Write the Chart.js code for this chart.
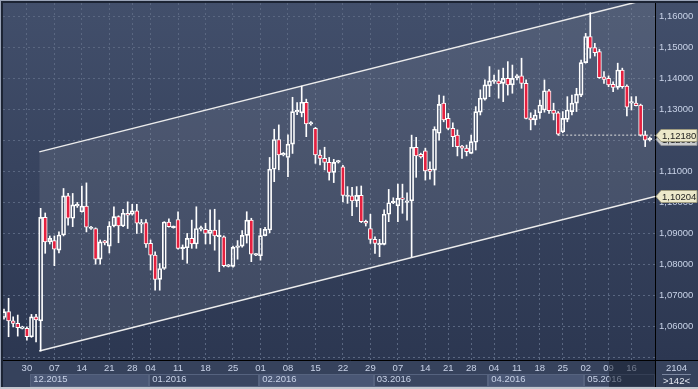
<!DOCTYPE html>
<html><head><meta charset="utf-8">
<script src="https://cdn.jsdelivr.net/npm/chart.js@4.4.0/dist/chart.umd.min.js"></script>
<style>html,body{margin:0;padding:0;background:#36425c;overflow:hidden}</style>
</head><body>
<canvas id="c" width="698" height="389" style="display:block;width:698px;height:389px"></canvas>
<script>
// ---- data (daily candles, one slot per bar) ----
const open = [
1.0630,1.0649,1.0619,1.0611,1.0595,1.0595,1.0568,1.0632,1.0619,1.0953,
1.0874,1.0878,1.0847,1.0896,1.1022,1.0950,1.0990,1.0971,1.0989,1.0917,
1.0917,1.0818,1.0877,1.0860,1.0925,1.0955,1.0925,1.0966,1.0963,1.0974,
1.0931,1.0936,1.0869,1.0831,1.0753,1.0788,1.0938,1.0920,1.0946,1.0852,
1.0855,1.0885,1.0867,1.0915,1.0914,1.0901,1.0912,1.0891,1.0890,1.0795,
1.0795,1.0856,1.0860,1.0895,1.0944,1.0831,1.0829,1.0894,1.0912,1.1108,
1.1204,1.1154,1.1146,1.1189,1.1293,1.1290,1.1324,1.1254,1.1240,1.1154,
1.1143,1.1130,1.1098,1.1131,1.1116,1.1020,1.1022,1.1006,1.1024,1.0940,
1.0917,1.0882,1.0864,1.0866,1.0963,1.1000,1.0990,1.1016,1.1001,1.1006,
1.1179,1.1156,1.1167,1.1108,1.1105,1.1224,1.1321,1.1272,1.1240,1.1218,
1.1183,1.1176,1.1159,1.1195,1.1292,1.1334,1.1377,1.1391,1.1393,1.1385,
1.1401,1.1380,1.1403,1.1409,1.1385,1.1274,1.1267,1.1290,1.1299,1.1361,
1.1299,1.1290,1.1229,1.1269,1.1294,1.1321,1.1347,1.1452,1.1536,1.1500,
1.1487,1.1406,1.1401,1.1382,1.1372,1.1428,1.1376,1.1321,1.1321,1.1315,
1.1218,1.1203];
const high = [
1.0657,1.0692,1.0632,1.0638,1.0602,1.0600,1.0640,1.0640,1.0982,1.0967,
1.0893,1.0893,1.0906,1.1046,1.1030,1.1030,1.1001,1.1054,1.1064,1.0924,
1.0919,1.0880,1.0879,1.0939,1.0987,1.0958,1.0979,1.1003,1.0995,1.0995,
1.0946,1.0946,1.0880,1.0842,1.0804,1.0939,1.0948,1.0925,1.0971,1.0864,
1.0901,1.0944,1.0987,1.0925,1.0934,1.0977,1.0979,1.0944,1.0893,1.0801,
1.0860,1.0878,1.0910,1.0971,1.0950,1.0836,1.0917,1.0921,1.1146,1.1237,
1.1251,1.1162,1.1219,1.1340,1.1323,1.1376,1.1334,1.1262,1.1243,1.1170,
1.1179,1.1146,1.1140,1.1137,1.1121,1.1052,1.1050,1.1052,1.1054,1.0944,
1.0963,1.0890,1.0882,1.0977,1.1043,1.1016,1.1060,1.1060,1.1032,1.1218,
1.1211,1.1160,1.1176,1.1132,1.1245,1.1347,1.1344,1.1288,1.1258,1.1235,
1.1185,1.1186,1.1218,1.1310,1.1364,1.1396,1.1439,1.1412,1.1428,1.1434,
1.1455,1.1444,1.1413,1.1466,1.1396,1.1290,1.1299,1.1331,1.1396,1.1366,
1.1321,1.1294,1.1294,1.1342,1.1347,1.1369,1.1460,1.1546,1.1613,1.1514,
1.1495,1.1423,1.1409,1.1390,1.1450,1.1434,1.1380,1.1342,1.1342,1.1318,
1.1231,1.1212];
const low = [
1.0625,1.0568,1.0600,1.0570,1.0593,1.0557,1.0566,1.0551,1.0522,1.0837,
1.0867,1.0797,1.0838,1.0893,1.0928,1.0923,1.0985,1.0970,1.0906,1.0914,
1.0802,1.0802,1.0864,1.0838,1.0922,1.0871,1.0923,1.0917,1.0960,1.0901,
1.0903,1.0856,1.0783,1.0718,1.0718,1.0785,1.0921,1.0918,1.0850,1.0817,
1.0805,1.0853,1.0853,1.0909,1.0867,1.0867,1.0847,1.0778,1.0793,1.0793,
1.0792,1.0818,1.0857,1.0870,1.0810,1.0829,1.0815,1.0893,1.0903,1.1068,
1.1106,1.1151,1.1084,1.1159,1.1284,1.1277,1.1213,1.1250,1.1127,1.1122,
1.1106,1.1073,1.1065,1.1128,1.1003,1.0998,1.0958,1.0987,1.0936,1.0925,
1.0869,1.0837,1.0826,1.0864,1.0939,1.0997,1.0939,1.0966,1.0944,1.0826,
1.1082,1.1144,1.1073,1.1076,1.1057,1.1202,1.1261,1.1235,1.1181,1.1151,
1.1143,1.1151,1.1159,1.1170,1.1283,1.1331,1.1342,1.1385,1.1337,1.1326,
1.1347,1.1353,1.1396,1.1369,1.1270,1.1235,1.1251,1.1272,1.1292,1.1288,
1.1267,1.1218,1.1226,1.1261,1.1283,1.1294,1.1342,1.1450,1.1466,1.1473,
1.1401,1.1385,1.1374,1.1358,1.1366,1.1369,1.1280,1.1299,1.1312,1.1215,
1.1181,1.1199];
const close = [
1.0649,1.0619,1.0611,1.0597,1.0600,1.0568,1.0632,1.0622,1.0953,1.0874,
1.0885,1.0850,1.0896,1.1022,1.0950,1.0993,1.0995,1.0989,1.0921,1.0921,
1.0818,1.0874,1.0871,1.0925,1.0955,1.0925,1.0966,1.0960,1.0974,1.0934,
1.0936,1.0867,1.0831,1.0753,1.0788,1.0938,1.0923,1.0923,1.0853,1.0855,
1.0885,1.0867,1.0917,1.0919,1.0901,1.0912,1.0893,1.0893,1.0797,1.0799,
1.0856,1.0860,1.0895,1.0944,1.0834,1.0834,1.0894,1.0914,1.1108,1.1204,
1.1154,1.1159,1.1189,1.1294,1.1297,1.1324,1.1254,1.1258,1.1154,1.1143,
1.1130,1.1098,1.1130,1.1134,1.1024,1.1024,1.1006,1.1024,1.0939,1.0934,
1.0882,1.0869,1.0868,1.0963,1.1000,1.1004,1.1014,1.1011,1.1005,1.1179,
1.1151,1.1148,1.1103,1.1101,1.1237,1.1317,1.1267,1.1240,1.1213,1.1181,
1.1176,1.1165,1.1197,1.1294,1.1337,1.1380,1.1393,1.1394,1.1383,1.1401,
1.1380,1.1401,1.1409,1.1385,1.1272,1.1267,1.1283,1.1315,1.1361,1.1297,
1.1288,1.1221,1.1272,1.1299,1.1321,1.1350,1.1452,1.1536,1.1498,1.1484,
1.1403,1.1398,1.1380,1.1372,1.1428,1.1374,1.1308,1.1325,1.1313,1.1218,
1.1202,1.1206];

const dayTickIdx    = [5,11,17,23,28,32,38,44,50,56,62,68,74,80,86,92,97,102,107,112,117,122,127,132,137];
const dayTickLabels = ['30','07','14','21','28','04','11','18','25','01','08','15','22','29','07','14','21','28','04','11','18','25','02','09','16'];
const monthStartIdx = [6,32,56,81,106,127];
const monthLabels   = ['12.2015','01.2016','02.2016','03.2016','04.2016','05.2016'];
const yTicks = [1.05,1.06,1.07,1.08,1.09,1.10,1.11,1.12,1.13,1.14,1.15,1.16];

const X_MIN = -0.218, X_MAX = 142.14;
const Y_MIN = 1.0493, Y_MAX = 1.1644;

const channelX     = [7.7, X_MAX];
const channelUpper = [1.1164, 1.1662];
const channelLower = [1.0522, 1.10204];
const hLineStart = 121, hLineLevel = 1.1218;
const tagLevels = [1.1218, 1.10204];

// ---- styling ----
const RED = '#e5203f';
const TXT = '#c9d3e8';
const GRID = '#5a6781';
Chart.defaults.font.family = "'Liberation Sans', Arial, sans-serif";
Chart.defaults.font.size = 9.5;

const idx = open.map((_, i) => i);
const bodies = idx.map(i => ({x: i, y: [open[i], close[i]]}));
const upWicks = idx.map(i => ({x: i, y: [Math.max(open[i], close[i]), high[i]]}));
const loWicks = idx.map(i => ({x: i, y: [low[i], Math.min(open[i], close[i])]}));

const fmt = v => v.toFixed(5).replace('.', ',');

function tag(ctx, left, right, y, text, fill, stroke) {
  ctx.beginPath();
  ctx.moveTo(left + 1, y);
  ctx.lineTo(left + 6, y - 6);
  ctx.lineTo(right - 1, y - 6);
  ctx.lineTo(right - 1, y + 6);
  ctx.lineTo(left + 6, y + 6);
  ctx.closePath();
  ctx.fillStyle = fill; ctx.fill();
  ctx.strokeStyle = stroke; ctx.lineWidth = 1; ctx.stroke();
  ctx.fillStyle = '#1d1d1d';
  ctx.textAlign = 'left'; ctx.textBaseline = 'middle';
  ctx.fillText(text, left + 7, y + 0.5);
}

const decor = {
  id: 'decor',
  beforeDraw(chart) {
    const {ctx, chartArea: a, width: W, height: H} = chart;
    const xs = chart.scales.x;
    ctx.save();
    ctx.fillStyle = '#36425c';
    ctx.fillRect(0, 0, W, H);
    const g = ctx.createLinearGradient(0, a.top, 0, a.bottom);
    g.addColorStop(0, '#424f6b');
    g.addColorStop(1, '#2c3751');
    ctx.fillStyle = g;
    ctx.fillRect(a.left, a.top, W - a.left, a.bottom - a.top);
    // month boxes
    const top = a.bottom + 14, bot = H - 2;
    monthStartIdx.forEach((s, k) => {
      const x0 = Math.round(xs.getPixelForValue(s - 0.5)) + 1;
      const x1 = k + 1 < monthStartIdx.length ? Math.round(xs.getPixelForValue(monthStartIdx[k + 1] - 0.5)) + 1 : a.right;
      ctx.fillStyle = k % 2 === 0 ? '#4a5775' : '#3a4661';
      ctx.fillRect(x0, top, x1 - x0, bot - top);
      ctx.strokeStyle = '#56637f';
      ctx.strokeRect(x0 + 0.5, top + 0.5, x1 - x0 - 1, bot - top - 1);
    });
    ctx.restore();
  },
  afterDraw(chart) {
    const {ctx, chartArea: a, width: W, height: H} = chart;
    const ys = chart.scales.y;
    ctx.save();
    ctx.font = "9.5px 'Liberation Sans', Arial, sans-serif";
    // darker region in axis strip
    ctx.fillStyle = 'rgba(20,27,44,0.5)';
    ctx.fillRect(609, a.bottom + 1, a.right - 609, H - 3 - a.bottom);
    // frame lines
    ctx.strokeStyle = '#000'; ctx.lineWidth = 1;
    ctx.beginPath();
    ctx.moveTo(a.right + 0.5, a.top); ctx.lineTo(a.right + 0.5, H - 2);
    ctx.moveTo(a.left, a.bottom + 0.5); ctx.lineTo(W, a.bottom + 0.5);
    ctx.stroke();
    // corner info
    const cx = (a.right + W) / 2;
    ctx.fillStyle = TXT; ctx.textAlign = 'center'; ctx.textBaseline = 'middle';
    ctx.fillText('2104', cx, a.bottom + 8.5);
    ctx.strokeStyle = '#7a86a0';
    ctx.beginPath(); ctx.moveTo(a.right + 7, a.bottom + 14.5); ctx.lineTo(W - 7, a.bottom + 14.5); ctx.stroke();
    ctx.fillStyle = '#e6ebf4';
    ctx.fillText('>' + open.length + '<', cx, a.bottom + 21);
    // price tags
    const last = close[close.length - 1];
    tag(ctx, a.right, W, Math.round(ys.getPixelForValue(last)) + 0.5, fmt(last), '#c9cbcd', '#8e9096');
    tagLevels.forEach(v => tag(ctx, a.right, W, Math.round(ys.getPixelForValue(v)) + 0.5, fmt(v), '#ece8ca', '#a09c80'));
    // outer frame
    ctx.fillStyle = '#9aa4b8';
    ctx.fillRect(0, 0, W, 1); ctx.fillRect(0, 0, 1, H);
    ctx.fillStyle = '#1c2434';
    ctx.fillRect(1, 1, W - 1, 2); ctx.fillRect(1, 1, 2, H - 3);
    ctx.fillStyle = '#c3c7cf';
    ctx.fillRect(0, H - 2, W, 2);
    ctx.restore();
  }
};

new Chart(document.getElementById('c'), {
  type: 'bar',
  data: {
    datasets: [
      { type: 'line', label: 'chanUp', xAxisID: 'x', yAxisID: 'y', order: 6,
        data: channelX.map((x, k) => ({x, y: channelUpper[k]})),
        borderColor: '#ececec', borderWidth: 1.5, pointRadius: 0, tension: 0,
        fill: '+1', backgroundColor: 'rgba(255,255,255,0.085)' },
      { type: 'line', label: 'chanLo', xAxisID: 'x', yAxisID: 'y', order: 6,
        data: channelX.map((x, k) => ({x, y: channelLower[k]})),
        borderColor: '#ececec', borderWidth: 1.5, pointRadius: 0, tension: 0, fill: false },
      { type: 'line', label: 'level', xAxisID: 'x', yAxisID: 'y', order: 5,
        data: [{x: hLineStart, y: hLineLevel}, {x: X_MAX, y: hLineLevel}],
        borderColor: '#e0e0e0', borderWidth: 1, borderDash: [2, 2], pointRadius: 0, fill: false },
      { label: 'loWick', xAxisID: 'x', yAxisID: 'y', order: 3, data: loWicks,
        backgroundColor: '#ffffff', borderWidth: 0, barThickness: 1 },
      { label: 'upWick', xAxisID: 'x', yAxisID: 'y', order: 3, data: upWicks,
        backgroundColor: '#ffffff', borderWidth: 0, barThickness: 1 },
      { label: 'body', xAxisID: 'x', yAxisID: 'y', order: 1, data: bodies,
        backgroundColor: idx.map(i => close[i] < open[i] ? RED : 'rgba(0,0,0,0)'),
        borderColor: '#ffffff', borderWidth: 1, borderSkipped: false,
        barThickness: 4, minBarLength: 1.5 }
    ]
  },
  options: {
    responsive: false, animation: false, devicePixelRatio: 1,
    layout: { padding: { left: 3, top: 3, right: 0, bottom: 2 } },
    datasets: { bar: { grouped: false } },
    plugins: { legend: { display: false }, tooltip: { enabled: false } },
    scales: {
      x: { type: 'linear', offset: false, min: X_MIN, max: X_MAX, bounds: 'data', position: 'bottom', weight: 0,
        afterBuildTicks: s => { s.ticks = dayTickIdx.map(v => ({value: v})); },
        afterFit: s => { s.height = 14; s.paddingLeft = 0; s.paddingRight = 0; },
        ticks: { autoSkip: false, maxRotation: 0, padding: 3, color: TXT,
          callback: (v, i) => dayTickLabels[i] },
        grid: { color: GRID, drawTicks: false, offset: false },
        border: { display: false, dash: [2, 3] } },
      x2: { type: 'linear', offset: false, min: X_MIN, max: X_MAX, bounds: 'data', position: 'bottom', weight: 1,
        afterBuildTicks: s => { s.ticks = monthStartIdx.map(v => ({value: v - 0.5})); },
        afterFit: s => { s.height = 13; s.paddingLeft = 0; s.paddingRight = 0; },
        ticks: { autoSkip: false, maxRotation: 0, align: 'start', labelOffset: 4, padding: 0, color: TXT,
          callback: (v, i) => monthLabels[i] },
        grid: { display: false, drawTicks: false },
        border: { display: false } },
      y: { type: 'linear', position: 'right', min: Y_MIN, max: Y_MAX, bounds: 'data',
        afterBuildTicks: s => { s.ticks = yTicks.map(v => ({value: v})); },
        afterFit: s => { s.width = 43; s.paddingTop = 0; s.paddingBottom = 0; },
        ticks: { padding: 4, color: TXT, callback: v => v < 1.055 ? '' : fmt(v) },
        grid: { color: GRID, drawTicks: false },
        border: { display: false, dash: [2, 3] } }
    }
  },
  plugins: [decor]
});
</script>
</body></html>
